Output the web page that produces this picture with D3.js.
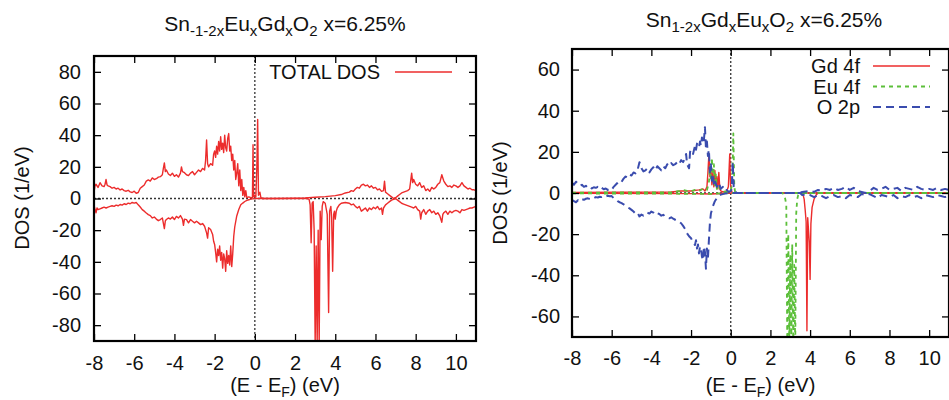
<!DOCTYPE html>
<html><head><meta charset="utf-8">
<script src="https://cdn.jsdelivr.net/npm/d3@7/dist/d3.min.js"></script>
<style>
body{margin:0;background:#fff;}
svg{display:block;font-family:"Liberation Sans",Arial,Helvetica,sans-serif;}
</style></head>
<body><svg id="c" width="949" height="400"></svg>
<script>
// ---------- DATA ----------
const xTicks = [-8,-6,-4,-2,0,2,4,6,8,10];
const yTicksLeft = [-80,-60,-40,-20,0,20,40,60,80];
const yTicksRight = [-60,-40,-20,0,20,40,60];
const legendLeft = ["TOTAL DOS"];
const legendRight = ["Gd 4f","Eu 4f","O 2p"];

// Left panel: total DOS, spin up  [E (eV), DOS]
const totalUp = [[-8,4],[-7.95,8],[-7.9,9],[-7.8,7],[-7.7,10],[-7.6,8],[-7.5,7.5],[-7.45,9],[-7.4,12],[-7.35,8.5],[-7.3,8],[-7.2,7.5],[-7.1,6.5],[-7,7],[-6.9,6],[-6.8,6.5],[-6.7,5.4],[-6.6,6],[-6.5,5],[-6.4,4.6],[-6.3,5.2],[-6.2,4.2],[-6.1,3.8],[-6,4.6],[-5.9,3.3],[-5.8,3.8],[-5.7,6.5],[-5.6,7.5],[-5.5,8.5],[-5.4,11],[-5.3,11.7],[-5.2,11],[-5.1,13],[-5,12],[-4.9,12.5],[-4.8,13.5],[-4.7,13.8],[-4.6,15],[-4.55,19],[-4.5,22.5],[-4.45,17],[-4.4,18],[-4.3,15.5],[-4.2,14.5],[-4.1,16],[-4,14],[-3.9,15],[-3.8,13.5],[-3.7,16],[-3.65,20],[-3.6,17],[-3.5,16.3],[-3.4,15],[-3.3,14.5],[-3.2,16],[-3.1,17],[-3,15],[-2.9,16.5],[-2.8,18],[-2.7,17],[-2.6,19],[-2.5,18],[-2.45,24],[-2.4,37],[-2.35,22],[-2.3,20],[-2.2,22],[-2.1,21],[-2.05,28],[-2,30],[-1.95,26],[-1.9,33],[-1.85,28],[-1.8,36],[-1.75,30],[-1.7,39],[-1.65,31],[-1.6,35],[-1.55,29],[-1.5,40],[-1.45,32],[-1.4,30],[-1.35,38],[-1.3,41],[-1.25,30],[-1.2,33],[-1.15,24],[-1.1,28],[-1.05,18],[-1,24],[-0.95,12],[-0.9,16],[-0.85,22],[-0.8,8],[-0.75,18],[-0.7,5],[-0.65,12],[-0.6,2],[-0.55,7],[-0.5,1],[-0.45,5],[-0.4,0.5],[-0.3,1],[-0.2,0.5],[-0.12,0.5],[-0.09,34],[-0.06,1],[-0.02,2],[0.05,1],[0.1,20],[0.14,50],[0.18,2],[0.25,4],[0.3,0.5],[0.4,0],[1,0],[2,0.2],[2.5,0.4],[3,0.8],[3.5,1.2],[4,1.8],[4.3,2.5],[4.5,3.5],[4.7,4],[4.8,5],[4.9,4.5],[5,6],[5.1,7],[5.2,6.5],[5.3,8.5],[5.4,9],[5.5,8],[5.6,8.5],[5.7,7],[5.8,8],[5.9,6.5],[6,7],[6.1,5.5],[6.2,6],[6.3,4.5],[6.4,5],[6.45,11],[6.5,4],[6.6,3],[6.7,2],[6.8,1],[6.9,0],[7,0.5],[7.1,1.5],[7.2,2.5],[7.3,3.5],[7.4,4],[7.5,4.5],[7.6,5],[7.7,6],[7.75,11],[7.8,16],[7.85,10],[7.9,12],[8,9],[8.1,8],[8.2,10],[8.3,7],[8.4,8],[8.5,5],[8.6,6],[8.7,4.5],[8.8,7],[8.9,6],[9,7],[9.1,9],[9.2,10],[9.3,15],[9.35,13],[9.4,11],[9.5,9],[9.6,7.5],[9.7,8],[9.8,7],[9.9,8.5],[10,8],[10.1,7],[10.2,8],[10.3,10],[10.4,8],[10.5,7],[10.6,6],[10.7,6.5],[10.8,5.5],[10.9,5.5],[11,5]];

// Left panel: total DOS, spin down
const totalDown = [[-8,-4],[-7.95,-7],[-7.9,-9],[-7.85,-6],[-7.8,-7],[-7.7,-6.5],[-7.6,-6],[-7.5,-5.5],[-7.4,-6],[-7.3,-5.4],[-7.2,-5],[-7.1,-4.6],[-7,-5],[-6.9,-4.2],[-6.8,-4.6],[-6.7,-3.8],[-6.6,-4.2],[-6.5,-3.3],[-6.4,-3.8],[-6.3,-2.9],[-6.2,-3.3],[-6.1,-2.5],[-6,-2.9],[-5.9,-2.5],[-5.8,-4],[-5.7,-5.4],[-5.6,-7],[-5.5,-8],[-5.4,-9.2],[-5.3,-10.2],[-5.2,-10.8],[-5.1,-12.3],[-5,-11.7],[-4.9,-13],[-4.8,-14],[-4.7,-13.3],[-4.6,-12.3],[-4.5,-19],[-4.45,-14],[-4.4,-13.3],[-4.3,-12.3],[-4.2,-13],[-4.1,-11.7],[-4,-13.3],[-3.9,-11.3],[-3.8,-12.3],[-3.7,-10.8],[-3.6,-13],[-3.55,-17],[-3.5,-13],[-3.4,-13.3],[-3.3,-15.4],[-3.2,-13.3],[-3.1,-14.4],[-3,-15.4],[-2.9,-14.4],[-2.8,-15.4],[-2.7,-16.5],[-2.6,-15.8],[-2.5,-17.5],[-2.4,-21.7],[-2.35,-25],[-2.3,-18.5],[-2.2,-19.6],[-2.1,-22.7],[-2.05,-27],[-2,-29],[-1.95,-34],[-1.9,-40],[-1.85,-32],[-1.8,-36],[-1.75,-30],[-1.7,-39],[-1.65,-34],[-1.6,-44],[-1.55,-35],[-1.5,-38],[-1.45,-46],[-1.4,-33],[-1.35,-41],[-1.3,-36],[-1.25,-42],[-1.2,-30],[-1.15,-43],[-1.1,-35],[-1.05,-24],[-1,-18],[-0.9,-11],[-0.8,-7],[-0.7,-4],[-0.6,-2.9],[-0.5,-1.9],[-0.4,-1.2],[-0.3,-0.8],[-0.2,-0.4],[-0.1,-0.2],[0,0],[1,0],[2,0],[2.6,0],[2.7,-0.5],[2.75,-4],[2.8,-28],[2.85,-3],[2.9,-2],[2.95,-20],[3,-92],[3.05,-30],[3.1,-92],[3.15,-20],[3.2,-92],[3.25,-8],[3.3,-26],[3.35,-5],[3.4,-2],[3.5,-3],[3.6,-10],[3.67,-72],[3.72,-8],[3.78,-5],[3.82,-12],[3.87,-46],[3.92,-10],[3.96,-8],[4,-13],[4.05,-8],[4.1,-6],[4.2,-4],[4.3,-3],[4.5,-2.5],[4.7,-3],[4.8,-4],[4.9,-3.5],[5,-5],[5.1,-6],[5.2,-5],[5.3,-8],[5.4,-7],[5.5,-6],[5.6,-8],[5.7,-6],[5.8,-7],[5.9,-5.5],[6,-6.5],[6.1,-5],[6.2,-7],[6.3,-6],[6.35,-10],[6.4,-6],[6.5,-4],[6.6,-3],[6.7,-2],[6.8,-1],[6.9,-0.5],[7,0],[7.1,-1],[7.2,-2],[7.3,-3],[7.4,-3.5],[7.5,-4],[7.6,-4.5],[7.7,-5],[7.8,-5.5],[7.9,-6],[8,-5],[8.1,-7],[8.2,-8],[8.25,-13],[8.3,-9],[8.4,-7],[8.5,-10],[8.6,-8],[8.7,-7],[8.8,-9],[8.9,-8],[9,-10],[9.1,-9],[9.2,-11],[9.3,-15],[9.35,-10],[9.4,-9],[9.5,-8],[9.6,-10],[9.7,-8],[9.8,-9],[9.9,-8],[10,-7.5],[10.1,-8],[10.2,-9],[10.3,-7],[10.4,-7.5],[10.5,-7],[10.6,-6.5],[10.7,-6],[10.8,-6],[10.9,-5.5],[11,-5]];

// Right panel: Gd 4f
const gdUp = [[-8,0.3],[-3,0.5],[-2.5,1],[-2,1],[-1.6,1.5],[-1.4,2],[-1.3,1],[-1.2,3],[-1.15,10],[-1.1,19],[-1.05,8],[-1,12],[-0.95,4],[-0.9,10],[-0.85,3],[-0.8,11],[-0.75,4],[-0.7,8],[-0.65,2],[-0.6,10],[-0.55,2],[-0.5,1],[-0.4,0.5],[-0.2,1],[-0.12,3],[-0.05,19],[-0.01,4],[0.05,0.5],[0.15,0],[11,0]];
const gdDown = [[-8,-0.2],[-2,-0.3],[-1,-0.5],[0,0],[3.6,0],[3.65,-1],[3.7,-3],[3.75,-8],[3.8,-14],[3.84,-67],[3.88,-12],[3.92,-18],[3.96,-24],[4,-42],[4.04,-15],[4.1,-7],[4.2,-3],[4.3,-1],[4.4,0],[11,0]];
// Right panel: Eu 4f
const euUp = [[-8,0.2],[-3,0.3],[-2.6,1],[-2.4,1.5],[-2.2,1],[-2,0.8],[-1.8,1.5],[-1.6,1],[-1.4,2],[-1.2,1.5],[-1.1,5],[-1.05,13],[-1,6],[-0.95,17],[-0.9,5],[-0.85,14],[-0.8,3],[-0.75,9],[-0.7,2],[-0.6,4],[-0.5,1],[-0.3,0.5],[0,1],[0.08,5],[0.13,29],[0.18,3],[0.22,0.5],[0.3,0],[11,0]];
const euDown = [[-8,-0.2],[-1,-0.4],[0,0],[2.6,0],[2.7,-1],[2.75,-3],[2.8,-6],[2.85,-75],[2.9,-20],[2.95,-75],[3,-30],[3.05,-75],[3.1,-25],[3.15,-75],[3.2,-35],[3.25,-75],[3.3,-10],[3.35,-3],[3.4,-1],[3.5,0],[11,0]];
// Right panel: O 2p
const oUp = [[-8,5],[-7.9,4],[-7.8,5.5],[-7.7,4.5],[-7.6,3.5],[-7.5,4],[-7.4,3],[-7.3,3.5],[-7.2,2.5],[-7.1,3],[-7,2.2],[-6.9,2.8],[-6.8,2.5],[-6.7,3],[-6.6,2],[-6.5,2.5],[-6.4,1.8],[-6.3,2.2],[-6.2,1.5],[-6.1,2],[-6,1.5],[-5.9,3],[-5.8,4],[-5.7,5],[-5.6,6],[-5.5,5.5],[-5.4,7],[-5.3,8],[-5.2,7.5],[-5.1,9],[-5,8.5],[-4.9,10],[-4.8,9.5],[-4.7,11],[-4.6,15],[-4.5,12],[-4.4,10.5],[-4.3,11],[-4.2,12],[-4.1,10],[-4,11.5],[-3.9,12.5],[-3.8,11],[-3.7,13],[-3.6,12],[-3.5,11],[-3.4,13],[-3.3,12],[-3.2,14],[-3.1,13],[-3,14.5],[-2.9,13.5],[-2.8,14],[-2.7,15],[-2.6,14],[-2.5,16],[-2.4,15],[-2.3,17],[-2.25,19],[-2.2,14],[-2.1,12],[-2.05,20],[-2,21],[-1.9,19],[-1.8,23],[-1.75,21],[-1.7,24],[-1.6,22],[-1.55,25],[-1.5,23],[-1.45,27],[-1.4,24],[-1.35,26],[-1.3,32],[-1.25,22],[-1.2,25],[-1.15,18],[-1.1,21],[-1.05,10],[-1,14],[-0.95,6],[-0.9,9],[-0.85,4],[-0.8,6],[-0.7,3],[-0.6,5],[-0.5,2],[-0.4,3],[-0.3,1],[-0.2,1.5],[-0.1,0.5],[0,1],[0.05,2],[0.1,15],[0.15,3],[0.2,1],[0.3,0],[3.5,0],[3.6,0.5],[4,1],[4.2,0.5],[4.4,1.5],[4.6,1],[4.8,2],[5,1.5],[5.2,2.5],[5.4,1.5],[5.6,2],[5.8,3],[6,1.5],[6.2,2.5],[6.4,1],[6.6,0.5],[6.8,0],[7,1],[7.2,2.5],[7.4,1.5],[7.6,2],[7.8,3],[8,1.5],[8.2,2],[8.4,2.5],[8.6,1],[8.8,2.5],[9,2],[9.2,1.5],[9.4,3],[9.6,2],[9.8,1.5],[10,2],[10.2,1.5],[10.4,2.5],[10.6,1.5],[10.8,2],[11,1.5]];
const oDown = [[-8,-3.3],[-7.9,-4],[-7.8,-4.5],[-7.7,-3.5],[-7.6,-4],[-7.5,-3],[-7.4,-3.3],[-7.3,-2.8],[-7.2,-2.6],[-7.1,-2.9],[-7,-2.3],[-6.9,-2.5],[-6.8,-2],[-6.7,-2.2],[-6.6,-1.8],[-6.5,-2],[-6.4,-1.5],[-6.3,-1.8],[-6.2,-1.3],[-6.1,-1.6],[-6,-1.5],[-5.9,-2.5],[-5.8,-3.3],[-5.7,-4],[-5.6,-4.5],[-5.5,-4.9],[-5.4,-5.5],[-5.3,-6.2],[-5.2,-6.9],[-5.1,-7.5],[-5,-8.2],[-4.9,-9],[-4.8,-10],[-4.7,-9.5],[-4.6,-11.4],[-4.5,-10.5],[-4.4,-11],[-4.3,-10.6],[-4.2,-9.5],[-4.1,-10],[-4,-9],[-3.9,-9.5],[-3.8,-10.5],[-3.7,-9.8],[-3.6,-10.2],[-3.5,-11],[-3.4,-10.6],[-3.3,-11.5],[-3.2,-12],[-3.1,-12.3],[-3,-11.8],[-2.9,-12.5],[-2.8,-13],[-2.7,-13.5],[-2.6,-14],[-2.5,-14.7],[-2.4,-16],[-2.3,-17.5],[-2.2,-19.6],[-2.1,-21],[-2,-22],[-1.9,-24],[-1.8,-25.3],[-1.75,-23],[-1.7,-27],[-1.65,-25],[-1.6,-29.4],[-1.55,-26],[-1.5,-27],[-1.45,-31],[-1.4,-32.7],[-1.35,-26],[-1.3,-28.6],[-1.25,-36.8],[-1.2,-27],[-1.15,-32],[-1.1,-22.9],[-1.05,-14.7],[-1,-10],[-0.9,-6.5],[-0.8,-4],[-0.7,-2.5],[-0.6,-1.5],[-0.5,-0.8],[-0.3,-0.3],[0,0],[3.5,0],[3.6,-1],[3.8,-0.5],[4,-1],[4.2,-2],[4.4,-1],[4.6,-1.5],[4.8,-2.5],[5,-1.5],[5.2,-1],[5.4,-2],[5.6,-1.5],[5.8,-2.5],[6,-1],[6.2,-1.5],[6.4,-2],[6.6,-0.5],[6.8,-1],[7,-0.5],[7.2,-1.5],[7.4,-2.5],[7.6,-1],[7.8,-1.5],[8,-2],[8.2,-1],[8.4,-2.5],[8.6,-1.5],[8.8,-2],[9,-1],[9.2,-2],[9.4,-1.5],[9.6,-2.5],[9.8,-1],[10,-1.5],[10.2,-2],[10.4,-1],[10.6,-1.5],[10.8,-2],[11,-1.5]];

// ---------- STYLE ----------
const RED = "#ec2c2c", GREEN = "#5cbf3a", BLUE = "#3a4cae";
const FONT = 20;

const svg = d3.select("#c");

// rich text with subscripts: parts = [{t, s}]
function rich(textSel, parts, size, subSize) {
  let down = false;
  parts.forEach(p => {
    const ts = textSel.append("tspan").text(p.t);
    if (p.s) {
      ts.attr("font-size", subSize);
      if (!down) { ts.attr("dy", 5); down = true; }
    } else {
      ts.attr("font-size", size);
      if (down) { ts.attr("dy", -5); down = false; }
    }
  });
}

function panel(opt) {
  const x = d3.scaleLinear().domain([-8, 11]).range([opt.x0, opt.x1]);
  const y = d3.scaleLinear().domain(opt.yDom).range([opt.y1, opt.y0]);
  const g = svg.append("g");
  const clipId = "clip" + opt.id;
  svg.append("clipPath").attr("id", clipId).append("rect")
    .attr("x", opt.x0).attr("y", opt.y0).attr("width", opt.x1 - opt.x0).attr("height", opt.y1 - opt.y0);

  // zero lines (dotted)
  g.append("line").attr("x1", x(0)).attr("x2", x(0)).attr("y1", opt.y0).attr("y2", opt.y1)
    .attr("stroke", "#333").attr("stroke-width", 1.3).attr("stroke-dasharray", "2,2");
  g.append("line").attr("x1", opt.x0).attr("x2", opt.x1).attr("y1", y(0)).attr("y2", y(0))
    .attr("stroke", "#333").attr("stroke-width", 1.3).attr("stroke-dasharray", "2,2");

  const line = d3.line().x(d => x(d[0])).y(d => y(d[1]));
  const cg = g.append("g").attr("clip-path", `url(#${clipId})`);
  opt.series.forEach(s => {
    [s.up, s.down].forEach(data => {
      cg.append("path").datum(data).attr("d", line).attr("fill", "none")
        .attr("stroke", s.color).attr("stroke-width", s.width)
        .attr("stroke-dasharray", s.dash || null).attr("stroke-linejoin", "round");
    });
  });

  const fmt = d => String(d);
  const ax = (a, tr, labels) => {
    const gg = g.append("g").attr("transform", tr).call(a);
    gg.select(".domain").remove();
    gg.selectAll("line").attr("stroke", "#000").attr("stroke-width", 1.3);
    if (labels) {
      gg.selectAll("text").attr("font-size", FONT).attr("font-family", '"Liberation Sans",Arial,sans-serif').attr("fill", "#111");
    } else {
      gg.selectAll("text").remove();
    }
    return gg;
  };
  ax(d3.axisBottom(x).tickValues(xTicks).tickSize(-7).tickPadding(opt.xPad).tickFormat(fmt), `translate(0,${opt.y1})`, true);
  ax(d3.axisTop(x).tickValues(xTicks).tickSize(-7), `translate(0,${opt.y0})`, false);
  ax(d3.axisLeft(y).tickValues(opt.yTicks).tickSize(-7).tickPadding(opt.yPad).tickFormat(fmt), `translate(${opt.x0},0)`, true);
  ax(d3.axisRight(y).tickValues(opt.yTicks).tickSize(-7), `translate(${opt.x1},0)`, false);

  g.append("rect").attr("x", opt.x0).attr("y", opt.y0).attr("width", opt.x1 - opt.x0).attr("height", opt.y1 - opt.y0)
    .attr("fill", "none").attr("stroke", "#000").attr("stroke-width", 2.2);

  // title
  const t = g.append("text").attr("x", opt.titleX).attr("y", opt.titleY).attr("text-anchor", "middle")
    .attr("font-size", 21).attr("fill", "#111");
  rich(t, opt.title, 21, 15);
  // axis labels
  const xl = g.append("text").attr("x", (opt.x0 + opt.x1) / 2).attr("y", opt.xLabelY).attr("text-anchor", "middle")
    .attr("font-size", FONT).attr("fill", "#111");
  rich(xl, [{t: "(E - E"}, {t: "F", s: true}, {t: ") (eV)"}], FONT, 14);
  g.append("text").attr("transform", `translate(${opt.yLabelX},${opt.yLabelY}) rotate(-90)`)
    .attr("text-anchor", "middle").attr("font-size", FONT).attr("fill", "#111").text("DOS (1/eV)");

  // legend
  opt.legend.forEach((name, i) => {
    const s = opt.series[i];
    const ly = opt.legY + i * opt.legStep;
    g.append("text").attr("x", opt.legTextX).attr("y", ly + 7).attr("text-anchor", "end")
      .attr("font-size", FONT).attr("fill", "#111").text(name);
    g.append("line").attr("x1", opt.legL0).attr("x2", opt.legL1).attr("y1", ly).attr("y2", ly)
      .attr("stroke", s.color).attr("stroke-width", s.width).attr("stroke-dasharray", s.dash || null);
  });
}

panel({
  id: "L", x0: 94, x1: 476, y0: 56, y1: 341, yDom: [-90, 90], yTicks: yTicksLeft,
  xPad: 15, yPad: 13,
  series: [{up: totalUp, down: totalDown, color: RED, width: 1.4}],
  title: [{t: "Sn"}, {t: "-1-2x", s: true}, {t: "Eu"}, {t: "x", s: true}, {t: "Gd"}, {t: "x", s: true}, {t: "O"}, {t: "2", s: true}, {t: " x=6.25%"}],
  titleX: 285, titleY: 31, xLabelY: 392, yLabelX: 29, yLabelY: 198,
  legend: legendLeft, legY: 72, legStep: 21, legTextX: 380, legL0: 395, legL1: 452
});

panel({
  id: "R", x0: 572, x1: 949, y0: 49, y1: 337, yDom: [-70, 70], yTicks: yTicksRight,
  xPad: 14, yPad: 12,
  series: [
    {up: gdUp, down: gdDown, color: RED, width: 1.4},
    {up: euUp, down: euDown, color: GREEN, width: 1.8, dash: "4,4"},
    {up: oUp, down: oDown, color: BLUE, width: 2, dash: "8,5"}
  ],
  title: [{t: "Sn"}, {t: "1-2x", s: true}, {t: "Gd"}, {t: "x", s: true}, {t: "Eu"}, {t: "x", s: true}, {t: "O"}, {t: "2", s: true}, {t: " x=6.25%"}],
  titleX: 764, titleY: 27, xLabelY: 392, yLabelX: 507, yLabelY: 193,
  legend: legendRight, legY: 66, legStep: 20.5, legTextX: 860, legL0: 873, legL1: 930
});
</script></body></html>
